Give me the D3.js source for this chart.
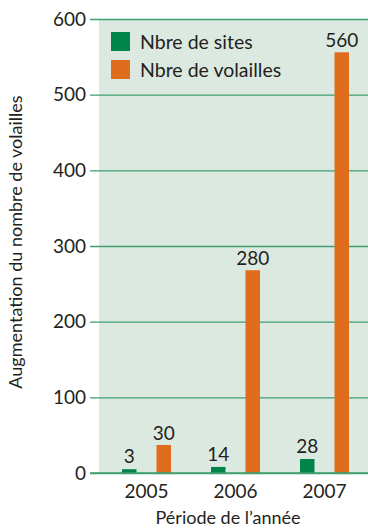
<!DOCTYPE html>
<html>
<head>
<meta charset="utf-8">
<script src="https://cdn.jsdelivr.net/npm/d3@7"></script>
<style>
body { margin: 0; background: #fff; }
text { font-family: Lato, "Open Sans", sans-serif; fill: #231f20; }
</style>
</head>
<body>
<div id="vis"></div>
<script>
// data
var years = ["2005", "2006", "2007"];
var sites = [5, 8, 18.5];          // bar heights as drawn
var volailles = [37, 268, 556];
var sitesLabels = ["3", "14", "28"];
var volaillesLabels = ["30", "280", "560"];
var yTicks = [0, 100, 200, 300, 400, 500, 600];
var seriesNames = ["Nbre de sites", "Nbre de volailles"];

var w = 368;
var h = 529;
var green = "#00844a";
var orange = "#e06c1e";
var gridCol = "#3f9e6f";

var svg = d3.select("#vis")
  .append("svg")
  .attr("width", w)
  .attr("height", h);

var yScale = d3.scaleLinear()
  .domain([0, 600])
  .range([473, 19]);

var xScale = d3.scaleBand()
  .domain(years)
  .range([102, 369]);

var inner = d3.scaleBand()
  .domain(["s", "v"])
  .range([0, 49])
  .paddingInner(0.58);

// plot background
svg.append("rect")
  .attr("x", 99)
  .attr("y", yScale(600))
  .attr("width", w - 99)
  .attr("height", yScale(0) - yScale(600))
  .attr("fill", "#dce9e1");

// y axis with gridlines
var yAxis = svg.append("g")
  .attr("transform", "translate(90,0)")
  .call(d3.axisLeft(yScale).tickValues(yTicks).tickSize(-(w - 90)).tickPadding(4).tickFormat(d3.format("d")));
yAxis.select(".domain").remove();
yAxis.selectAll(".tick line").attr("stroke", gridCol).attr("stroke-width", 1.3);
yAxis.selectAll(".tick text").attr("font-size", 19).attr("fill", "#231f20");

// bars
var offset = function(y) { return xScale(y) + (xScale.bandwidth() - 49) / 2; };

svg.selectAll(".bs")
  .data(years)
  .enter()
  .append("rect")
  .attr("x", (d) => offset(d) + inner("s"))
  .attr("y", (d, i) => yScale(sites[i]))
  .attr("width", inner.bandwidth())
  .attr("height", (d, i) => yScale(0) - yScale(sites[i]))
  .attr("fill", green);

svg.selectAll(".bv")
  .data(years)
  .enter()
  .append("rect")
  .attr("x", (d) => offset(d) + inner("v"))
  .attr("y", (d, i) => yScale(volailles[i]))
  .attr("width", inner.bandwidth())
  .attr("height", (d, i) => yScale(0) - yScale(volailles[i]))
  .attr("fill", orange);

// value labels
svg.selectAll(".ls")
  .data(years)
  .enter()
  .append("text")
  .attr("x", (d) => offset(d) + inner("s") + inner.bandwidth() / 2)
  .attr("y", (d, i) => yScale(sites[i]) - 6)
  .attr("text-anchor", "middle")
  .attr("font-size", 19)
  .text((d, i) => sitesLabels[i]);

svg.selectAll(".lv")
  .data(years)
  .enter()
  .append("text")
  .attr("x", (d) => offset(d) + inner("v") + inner.bandwidth() / 2)
  .attr("y", (d, i) => yScale(volailles[i]) - 5)
  .attr("text-anchor", "middle")
  .attr("font-size", 19)
  .text((d, i) => volaillesLabels[i]);

// bottom line and year labels
svg.append("line")
  .attr("x1", 90).attr("x2", w)
  .attr("y1", yScale(0)).attr("y2", yScale(0))
  .attr("stroke", gridCol).attr("stroke-width", 1.3);

svg.selectAll(".yr")
  .data(years)
  .enter()
  .append("text")
  .attr("x", (d) => offset(d) + 24.5)
  .attr("y", 498)
  .attr("text-anchor", "middle")
  .attr("font-size", 19)
  .text((d) => d);

// legend
var legend = svg.selectAll(".leg")
  .data(seriesNames)
  .enter()
  .append("g")
  .attr("transform", (d, i) => `translate(111,${32 + i * 28})`);
legend.append("rect")
  .attr("width", 19).attr("height", 19)
  .attr("fill", (d, i) => i == 0 ? green : orange);
legend.append("text")
  .attr("x", 29).attr("y", 17)
  .attr("font-size", 19.5)
  .text((d) => d);

// axis titles
svg.append("text")
  .attr("x", 228).attr("y", 524)
  .attr("text-anchor", "middle")
  .attr("font-size", 18)
  .text("Période de l’année");

svg.append("text")
  .attr("transform", "translate(22,242) rotate(-90)")
  .attr("text-anchor", "middle")
  .attr("font-size", 18)
  .text("Augmentation du nombre de volailles");
</script>
</body>
</html>
